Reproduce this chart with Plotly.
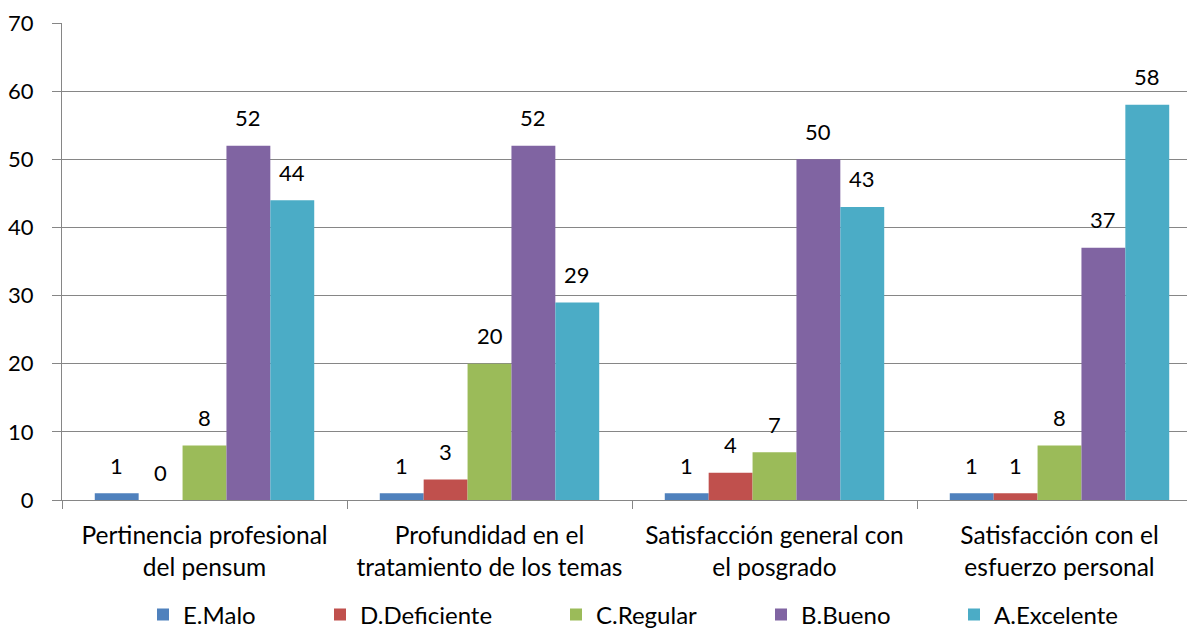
import plotly.graph_objects as go

categories = ["Pertinencia profesional<br>del pensum",
              "Profundidad en el<br>tratamiento de los temas",
              "Satisfacción general con<br>el posgrado",
              "Satisfacción con el<br>esfuerzo personal"]
series_names = ["E.Malo", "D.Deficiente", "C.Regular", "B.Bueno", "A.Excelente"]
e_malo = [1, 1, 1, 1]
d_deficiente = [0, 3, 4, 1]
c_regular = [8, 20, 7, 8]
b_bueno = [52, 52, 50, 37]
a_excelente = [44, 29, 43, 58]
series_values = [e_malo, d_deficiente, c_regular, b_bueno, a_excelente]
colors = ["#4F81BD", "#C0504D", "#9BBB59", "#8064A2", "#4BACC6"]

# page body has an 8px margin: compensate
BODY = 8
W, H = 1195 - BODY, 632 - BODY
ML, MR, MT, MB = 62 - BODY, 0, 23 - BODY, 132
plot_w = W - ML - MR
plot_h = H - MT - MB
cat_px = 285.0
span = plot_w / cat_px
bargap = 0.23
bar_px = cat_px * (1 - bargap) / len(series_names)

# legend text start positions (window pixels) for each series entry
legend_text_px = [185, 362, 598, 803, 996]
legend_center_y = 615

FONT = "Lato"
fig = go.Figure()
annotations = []
legends = {}
for i, (name, vals, col) in enumerate(zip(series_names, series_values, colors)):
    lg = "legend" if i == 0 else f"legend{i + 1}"
    fig.add_trace(go.Bar(name=name, x=categories, y=vals, marker_color=col,
                         marker_line_width=0, legend=lg, showlegend=True))
    legends[lg] = dict(orientation="h",
                       x=(legend_text_px[i] - 42 - BODY - ML) / plot_w,
                       xanchor="left",
                       y=-(legend_center_y - BODY - MT - plot_h) / plot_h,
                       yanchor="middle",
                       bgcolor="rgba(0,0,0,0)",
                       font=dict(family=FONT, size=24, color="#000000"))
    for cat, v in zip(categories, vals):
        annotations.append(dict(x=cat, y=v, xref="x", yref="y", text=str(v),
                                showarrow=False, xshift=(i - 2) * bar_px,
                                yshift=28, yanchor="middle",
                                font=dict(family=FONT, size=22, color="#000000")))

fig.update_layout(
    width=W, height=H,
    margin=dict(l=ML, r=MR, t=MT, b=MB, autoexpand=False),
    showlegend=True,
    barmode="group", bargap=bargap, bargroupgap=0,
    plot_bgcolor="white", paper_bgcolor="white",
    font=dict(family=FONT, size=22, color="#000000"),
    annotations=annotations,
    xaxis=dict(range=[-0.5, -0.5 + span], showline=True, linecolor="#868686",
               linewidth=1, ticks="outside", tickson="boundaries", ticklen=8,
               tickcolor="#868686", tickfont=dict(family=FONT, size=24.5),
               showgrid=False, fixedrange=True, automargin=False,
               ticklabelstandoff=14),
    yaxis=dict(range=[0, 70], dtick=10, showline=True, linecolor="#868686",
               linewidth=1, ticks="outside", ticklen=9, tickcolor="#868686",
               gridcolor="#868686", gridwidth=1, zeroline=False,
               tickfont=dict(family=FONT, size=22), ticklabelstandoff=14,
               automargin=False),
    **legends,
)

fig.write_html("out.html")
